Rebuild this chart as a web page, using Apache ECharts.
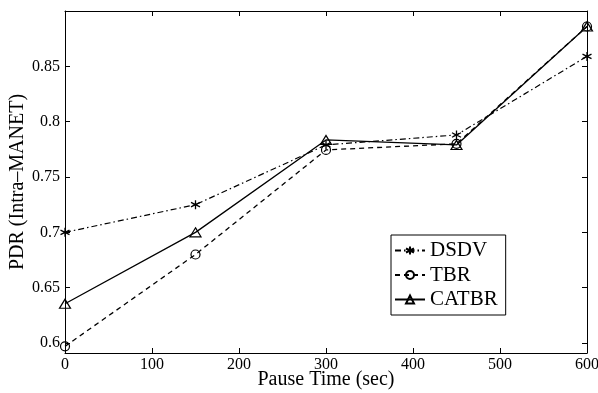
<!DOCTYPE html>
<html>
<head>
<meta charset="utf-8">
<script src="https://cdn.jsdelivr.net/npm/echarts@6/dist/echarts.min.js"></script>
<style>html,body{margin:0;padding:0;background:#fff}#c{width:598px;height:393px}</style>
</head>
<body>
<div id="c"></div>
<script>
const pauseTimes = [0, 150, 300, 450, 600];
const dsdv = [0.700, 0.725, 0.779, 0.788, 0.859];
const tbr = [0.597, 0.680, 0.7745, 0.780, 0.886];
const catbr = [0.6355, 0.700, 0.7835, 0.779, 0.886];
const xTicks = [0, 100, 200, 300, 400, 500, 600];
const yTicks = [0.6, 0.65, 0.7, 0.75, 0.8, 0.85];
const xLabel = 'Pause Time (sec)';
const yLabel = 'PDR (Intra\u2013MANET)';

const FONT = '"Liberation Serif", "DejaVu Serif", serif';
const asterisk = 'path://M5,0L5,10M0.67,2.5L9.33,7.5M0.67,7.5L9.33,2.5';

function pts(arr){ return pauseTimes.map((x,i)=>[x, arr[i]]); }

const chart = echarts.init(document.getElementById('c'), null, {renderer:'canvas'});
const axisCommon = {
  axisLine:{show:true, onZero:false, lineStyle:{color:'#000', width:1}},
  axisTick:{show:true, inside:true, length:5, lineStyle:{color:'#000', width:1}},
  splitLine:{show:false}
};
chart.setOption({
  animation:false,
  backgroundColor:'#fff',
  grid:{left:65, right:11, top:11, bottom:40, containLabel:false, outerBoundsMode:'none'},
  xAxis:[
    Object.assign({}, axisCommon, {
      type:'value', min:0, max:600, position:'bottom',
      axisTick:Object.assign({}, axisCommon.axisTick, {customValues:xTicks}),
      axisLabel:{customValues:xTicks, color:'#000', fontFamily:FONT, fontSize:16, margin:4},
      name:xLabel, nameLocation:'middle', nameGap:17, nameMoveOverlap:false,
      nameTextStyle:{color:'#000', fontFamily:FONT, fontSize:20}
    }),
    Object.assign({}, axisCommon, {
      type:'value', min:0, max:600, position:'top',
      axisTick:Object.assign({}, axisCommon.axisTick, {customValues:xTicks}),
      axisLabel:{show:false}
    })
  ],
  yAxis:[
    Object.assign({}, axisCommon, {
      type:'value', min:0.591, max:0.9, position:'left',
      axisTick:Object.assign({}, axisCommon.axisTick, {customValues:yTicks}),
      axisLabel:{customValues:yTicks, color:'#000', fontFamily:FONT, fontSize:16, margin:5,
        formatter:v=>String(+v.toFixed(2))},
      name:yLabel, nameLocation:'middle', nameGap:37, nameRotate:90, nameMoveOverlap:false,
      nameTextStyle:{color:'#000', fontFamily:FONT, fontSize:20}
    }),
    Object.assign({}, axisCommon, {
      type:'value', min:0.591, max:0.9, position:'right',
      axisTick:Object.assign({}, axisCommon.axisTick, {customValues:yTicks}),
      axisLabel:{show:false}
    })
  ],
  legend:{
    orient:'vertical', left:391, top:235,
    backgroundColor:'#fff', borderColor:'#000', borderWidth:1,
    padding:[5,8,5,3], itemGap:3.5, itemWidth:30, itemHeight:10,
    textStyle:{color:'#000', fontFamily:FONT, fontSize:21, lineHeight:20},
    data:['DSDV','TBR','CATBR']
  },
  series:[
    {name:'DSDV', type:'line', data:pts(dsdv), symbol:asterisk, symbolSize:9,
      lineStyle:{color:'#000', width:1.2, type:[6,3,1.5,3]},
      itemStyle:{color:'rgba(0,0,0,0)', borderColor:'#000', borderWidth:1.3}},
    {name:'TBR', type:'line', data:pts(tbr), symbol:'circle', symbolSize:9,
      lineStyle:{color:'#000', width:1.3, type:[5,4]},
      itemStyle:{color:'rgba(0,0,0,0)', borderColor:'#000', borderWidth:1.2}},
    {name:'CATBR', type:'line', data:pts(catbr), symbol:'triangle', symbolSize:[11,9],
      lineStyle:{color:'#000', width:1.3, type:'solid'},
      itemStyle:{color:'rgba(0,0,0,0)', borderColor:'#000', borderWidth:1.2}}
  ]
});
</script>
</body>
</html>
